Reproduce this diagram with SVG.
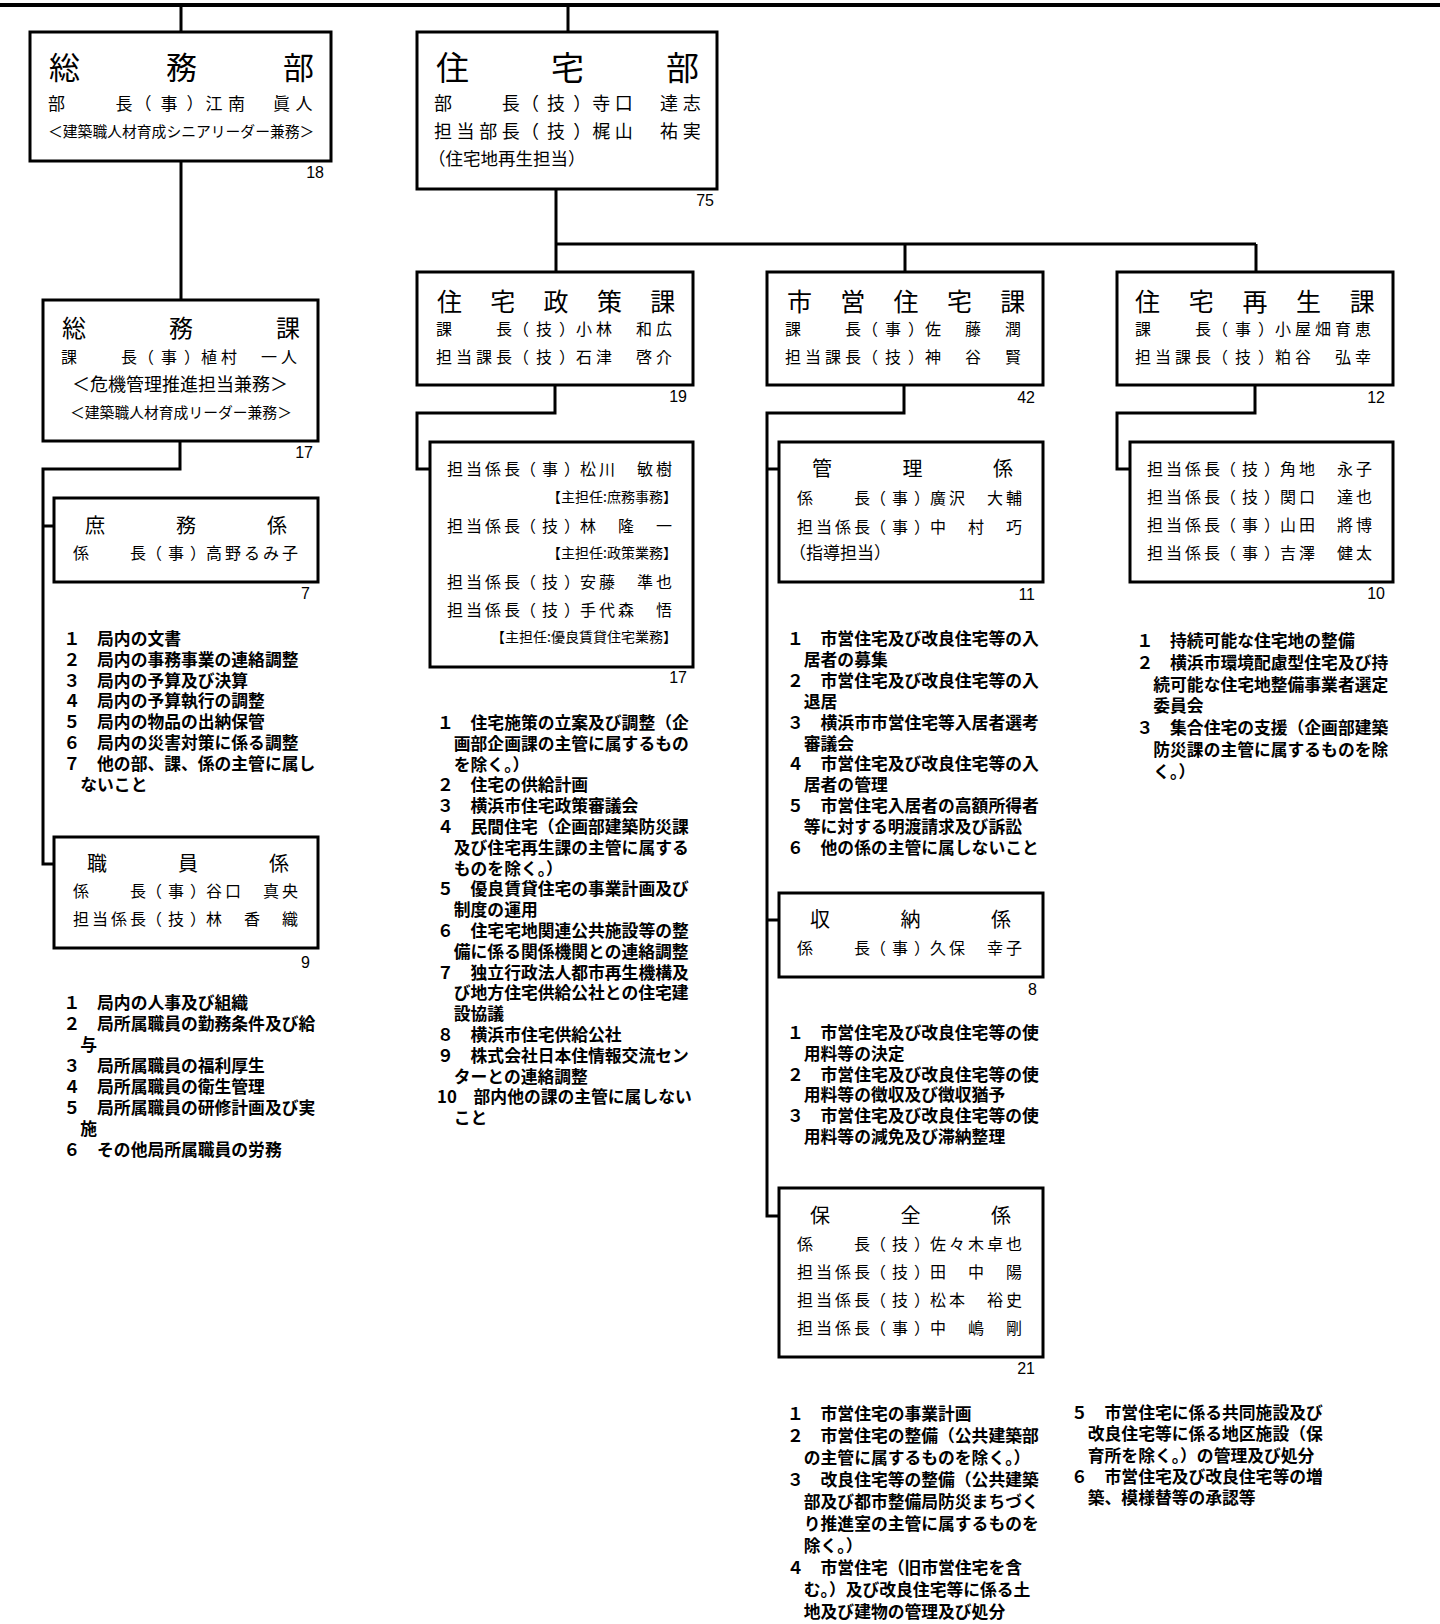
<svg xmlns="http://www.w3.org/2000/svg" width="1440" height="1624" viewBox="0 0 1440 1624">
<style>
text{font-family:"Noto Sans CJK JP","Noto Sans CJK SC",sans-serif;fill:#000}
.box{fill:#fff;stroke:#000;stroke-width:3}
.ln{fill:none;stroke:#000;stroke-width:3}
.r{font-size:16px;letter-spacing:4px}
.r3{font-size:16px;letter-spacing:3px}
.t25{font-size:25px;letter-spacing:28.3px}
.t20{font-size:20px;letter-spacing:71px}
.n{font-family:"Liberation Sans",Arial,sans-serif;font-size:16px;text-anchor:end}
.s14{font-size:14px;text-anchor:end}
.li{font-size:16.8px;font-weight:bold}
</style>
<rect width="1440" height="1624" fill="#fff"/>
<g id="connectors">
<path class="ln" d="M0,5H1440" style="stroke-width:4"/>
<path class="ln" d="M181,5V32M568,5V32"/>
<path class="ln" d="M181,161V300"/>
<path class="ln" d="M180,441V469H43V864H54M43,526H54"/>
<path class="ln" d="M556,189V244H1256M556,244V272M905,244V272M1256,244V272"/>
<path class="ln" d="M555,385V413H417V469H430"/>
<path class="ln" d="M904,385V413H767V1216H779M767,469H779M767,920H779"/>
<path class="ln" d="M1255,385V413H1117V469H1130"/>
</g>
<g id="somubu">
<rect class="box" x="30" y="32" width="301" height="129"/>
<text x="49" y="79" style="font-size:31px;letter-spacing:86px">総務部</text>
<text x="48" y="110" dx="0 0 0 0 -3.5 3.5 3.5 -3.5" style="font-size:17px;letter-spacing:5.5px">部　　長（事）江南　眞人</text>
<text x="48" y="137" style="font-size:14.8px">＜建築職人材育成シニアリーダー兼務＞</text>
<text class="n" x="324" y="178">18</text>
</g>
<g id="jutakubu">
<rect class="box" x="417" y="32" width="300" height="157"/>
<text x="436" y="80" style="font-size:33px;letter-spacing:82px">住宅部</text>
<text x="434" y="110" dx="0 0 0 0 -3.5 3.5 3.5 -3.5" style="font-size:18px;letter-spacing:4.6px">部　　長（技）寺口　達志</text>
<text x="434" y="138" dx="0 0 0 0 -3.5 3.5 3.5 -3.5" style="font-size:18px;letter-spacing:4.6px">担当部長（技）梶山　祐実</text>
<text x="428" y="165" style="font-size:17.5px">（住宅地再生担当）</text>
<text class="n" x="714" y="206">75</text>
</g>
<g id="somuka">
<rect class="box" x="43" y="300" width="275" height="141"/>
<text x="62" y="337" style="font-size:24px;letter-spacing:83px">総務課</text>
<text class="r" x="61" y="363" dx="0 0 0 0 -3 3 3 -3">課　　長（事）植村　一人</text>
<text x="72" y="391" style="font-size:18px">＜危機管理推進担当兼務＞</text>
<text x="70" y="418" style="font-size:14.8px">＜建築職人材育成リーダー兼務＞</text>
<text class="n" x="313" y="458">17</text>
</g>
<g id="shomugakari">
<rect class="box" x="54" y="498" width="264" height="84"/>
<text class="t20" x="85" y="533">庶務係</text>
<text class="r3" x="73" y="559" dx="0 0 0 0 -3 3 3 -3">係　　長（事）高野るみ子</text>
<text class="n" x="310" y="599">7</text>
</g>
<g id="shomu-list">
<text class="li"><tspan x="63.5" y="645">１　局内の文書</tspan><tspan x="63.5" y="665.8">２　局内の事務事業の連絡調整</tspan><tspan x="63.5" y="686.6">３　局内の予算及び決算</tspan><tspan x="63.5" y="707.4">４　局内の予算執行の調整</tspan><tspan x="63.5" y="728.2">５　局内の物品の出納保管</tspan><tspan x="63.5" y="749">６　局内の災害対策に係る調整</tspan><tspan x="63.5" y="769.8">７　他の部、課、係の主管に属し</tspan><tspan x="80.3" y="790.6">ないこと</tspan></text>
</g>
<g id="shokuingakari">
<rect class="box" x="54" y="837" width="264" height="111"/>
<text class="t20" x="87" y="871">職員係</text>
<text class="r3" x="73" y="897" dx="0 0 0 0 -3 3 3 -3">係　　長（事）谷口　真央</text>
<text class="r3" x="73" y="925" dx="0 0 0 0 -3 3 3 -3">担当係長（技）林　香　織</text>
<text class="n" x="310" y="968">9</text>
</g>
<g id="shokuin-list">
<text class="li"><tspan x="63.5" y="1009">１　局内の人事及び組織</tspan><tspan x="63.5" y="1030">２　局所属職員の勤務条件及び給</tspan><tspan x="80.3" y="1051">与</tspan><tspan x="63.5" y="1072">３　局所属職員の福利厚生</tspan><tspan x="63.5" y="1093">４　局所属職員の衛生管理</tspan><tspan x="63.5" y="1114">５　局所属職員の研修計画及び実</tspan><tspan x="80.3" y="1135">施</tspan><tspan x="63.5" y="1156">６　その他局所属職員の労務</tspan></text>
</g>
<g id="seisakuka">
<rect class="box" x="417" y="272" width="276" height="113"/>
<text class="t25" x="437" y="311">住宅政策課</text>
<text class="r" x="436" y="335" dx="0 0 0 0 -3 3 3 -3">課　　長（技）小林　和広</text>
<text class="r" x="436" y="363" dx="0 0 0 0 -3 3 3 -3">担当課長（技）石津　啓介</text>
<text class="n" x="687" y="402">19</text>
</g>
<g id="seisaku-tanto">
<rect class="box" x="430" y="442" width="263" height="225"/>
<text class="r3" x="447" y="475" dx="0 0 0 0 -3 3 3 -3">担当係長（事）松川　敏樹</text>
<text class="s14" x="677" y="502">【主担任:庶務事務】</text>
<text class="r3" x="447" y="532" dx="0 0 0 0 -3 3 3 -3">担当係長（技）林　隆　一</text>
<text class="s14" x="677" y="558">【主担任:政策業務】</text>
<text class="r3" x="447" y="588" dx="0 0 0 0 -3 3 3 -3">担当係長（技）安藤　準也</text>
<text class="r3" x="447" y="616" dx="0 0 0 0 -3 3 3 -3">担当係長（技）手代森　悟</text>
<text class="s14" x="677" y="642">【主担任:優良賃貸住宅業務】</text>
<text class="n" x="687" y="683">17</text>
</g>
<g id="seisaku-list">
<text class="li"><tspan x="437" y="729">１　住宅施策の立案及び調整（企</tspan><tspan x="453.8" y="749.8">画部企画課の主管に属するもの</tspan><tspan x="453.8" y="770.6">を除く。）</tspan><tspan x="437" y="791.4">２　住宅の供給計画</tspan><tspan x="437" y="812.2">３　横浜市住宅政策審議会</tspan><tspan x="437" y="833">４　民間住宅（企画部建築防災課</tspan><tspan x="453.8" y="853.8">及び住宅再生課の主管に属する</tspan><tspan x="453.8" y="874.6">ものを除く。）</tspan><tspan x="437" y="895.4">５　優良賃貸住宅の事業計画及び</tspan><tspan x="453.8" y="916.2">制度の運用</tspan><tspan x="437" y="937">６　住宅宅地関連公共施設等の整</tspan><tspan x="453.8" y="957.8">備に係る関係機関との連絡調整</tspan><tspan x="437" y="978.6">７　独立行政法人都市再生機構及</tspan><tspan x="453.8" y="999.4">び地方住宅供給公社との住宅建</tspan><tspan x="453.8" y="1020.2">設協議</tspan><tspan x="437" y="1041">８　横浜市住宅供給公社</tspan><tspan x="437" y="1061.8">９　株式会社日本住情報交流セン</tspan><tspan x="453.8" y="1082.6">ターとの連絡調整</tspan><tspan x="437" y="1103.4">10　部内他の課の主管に属しない</tspan><tspan x="453.8" y="1124.2">こと</tspan></text>
</g>
<g id="shieika">
<rect class="box" x="767" y="272" width="276" height="113"/>
<text class="t25" x="787" y="311">市営住宅課</text>
<text class="r" x="785" y="335" dx="0 0 0 0 -3 3 3 -3">課　　長（事）佐　藤　潤</text>
<text class="r" x="785" y="363" dx="0 0 0 0 -3 3 3 -3">担当課長（技）神　谷　賢</text>
<text class="n" x="1035" y="403">42</text>
</g>
<g id="kanrigakari">
<rect class="box" x="779" y="442" width="264" height="140"/>
<text class="t20" x="812" y="476" style="letter-spacing:70.5px">管理係</text>
<text class="r3" x="797" y="504" dx="0 0 0 0 -3 3 3 -3">係　　長（事）廣沢　大輔</text>
<text class="r3" x="797" y="533" dx="0 0 0 0 -3 3 3 -3">担当係長（事）中　村　巧</text>
<text x="789" y="559" style="font-size:17px">（指導担当）</text>
<text class="n" x="1035" y="600">11</text>
</g>
<g id="kanri-list">
<text class="li"><tspan x="787" y="645">１　市営住宅及び改良住宅等の入</tspan><tspan x="803.8" y="665.9">居者の募集</tspan><tspan x="787" y="686.8">２　市営住宅及び改良住宅等の入</tspan><tspan x="803.8" y="707.7">退居</tspan><tspan x="787" y="728.6">３　横浜市市営住宅等入居者選考</tspan><tspan x="803.8" y="749.5">審議会</tspan><tspan x="787" y="770.4">４　市営住宅及び改良住宅等の入</tspan><tspan x="803.8" y="791.3">居者の管理</tspan><tspan x="787" y="812.2">５　市営住宅入居者の高額所得者</tspan><tspan x="803.8" y="833.1">等に対する明渡請求及び訴訟</tspan><tspan x="787" y="854">６　他の係の主管に属しないこと</tspan></text>
</g>
<g id="shunogakari">
<rect class="box" x="779" y="893" width="264" height="84"/>
<text class="t20" x="810" y="927" style="letter-spacing:70.5px">収納係</text>
<text class="r3" x="797" y="954" dx="0 0 0 0 -3 3 3 -3">係　　長（事）久保　幸子</text>
<text class="n" x="1037" y="995">8</text>
</g>
<g id="shuno-list">
<text class="li"><tspan x="787" y="1039">１　市営住宅及び改良住宅等の使</tspan><tspan x="803.8" y="1059.8">用料等の決定</tspan><tspan x="787" y="1080.6">２　市営住宅及び改良住宅等の使</tspan><tspan x="803.8" y="1101.4">用料等の徴収及び徴収猶予</tspan><tspan x="787" y="1122.2">３　市営住宅及び改良住宅等の使</tspan><tspan x="803.8" y="1143">用料等の減免及び滞納整理</tspan></text>
</g>
<g id="hozengakari">
<rect class="box" x="779" y="1188" width="264" height="169"/>
<text class="t20" x="810" y="1223" style="letter-spacing:70.5px">保全係</text>
<text class="r3" x="797" y="1250" dx="0 0 0 0 -3 3 3 -3">係　　長（技）佐々木卓也</text>
<text class="r3" x="797" y="1278" dx="0 0 0 0 -3 3 3 -3">担当係長（技）田　中　陽</text>
<text class="r3" x="797" y="1306" dx="0 0 0 0 -3 3 3 -3">担当係長（技）松本　裕史</text>
<text class="r3" x="797" y="1334" dx="0 0 0 0 -3 3 3 -3">担当係長（事）中　嶋　剛</text>
<text class="n" x="1035" y="1374">21</text>
</g>
<g id="hozen-list">
<text class="li"><tspan x="787" y="1420">１　市営住宅の事業計画</tspan><tspan x="787" y="1442">２　市営住宅の整備（公共建築部</tspan><tspan x="803.8" y="1464">の主管に属するものを除く。）</tspan><tspan x="787" y="1486">３　改良住宅等の整備（公共建築</tspan><tspan x="803.8" y="1508">部及び都市整備局防災まちづく</tspan><tspan x="803.8" y="1530">り推進室の主管に属するものを</tspan><tspan x="803.8" y="1552">除く。）</tspan><tspan x="787" y="1574">４　市営住宅（旧市営住宅を含</tspan><tspan x="803.8" y="1596">む。）及び改良住宅等に係る土</tspan><tspan x="803.8" y="1618">地及び建物の管理及び処分</tspan></text>
<text class="li"><tspan x="1071" y="1419">５　市営住宅に係る共同施設及び</tspan><tspan x="1087.8" y="1440.3">改良住宅等に係る地区施設（保</tspan><tspan x="1087.8" y="1461.6">育所を除く。）の管理及び処分</tspan><tspan x="1071" y="1482.9">６　市営住宅及び改良住宅等の増</tspan><tspan x="1087.8" y="1504.2">築、模様替等の承認等</tspan></text>
</g>
<g id="saiseika">
<rect class="box" x="1117" y="272" width="276" height="113"/>
<text class="t25" x="1135" y="311" style="letter-spacing:28.7px">住宅再生課</text>
<text class="r" x="1135" y="335" dx="0 0 0 0 -3 3 3 -3">課　　長（事）小屋畑育恵</text>
<text class="r" x="1135" y="363" dx="0 0 0 0 -3 3 3 -3">担当課長（技）粕谷　弘幸</text>
<text class="n" x="1385" y="403">12</text>
</g>
<g id="saisei-tanto">
<rect class="box" x="1130" y="442" width="263" height="140"/>
<text class="r3" x="1147" y="475" dx="0 0 0 0 -3 3 3 -3">担当係長（技）角地　永子</text>
<text class="r3" x="1147" y="503" dx="0 0 0 0 -3 3 3 -3">担当係長（技）関口　達也</text>
<text class="r3" x="1147" y="531" dx="0 0 0 0 -3 3 3 -3">担当係長（事）山田　將博</text>
<text class="r3" x="1147" y="559" dx="0 0 0 0 -3 3 3 -3">担当係長（事）吉澤　健太</text>
<text class="n" x="1385" y="599">10</text>
</g>
<g id="saisei-list">
<text class="li"><tspan x="1136.5" y="647">１　持続可能な住宅地の整備</tspan><tspan x="1136.5" y="668.8">２　横浜市環境配慮型住宅及び持</tspan><tspan x="1153.3" y="690.6">続可能な住宅地整備事業者選定</tspan><tspan x="1153.3" y="712.4">委員会</tspan><tspan x="1136.5" y="734.2">３　集合住宅の支援（企画部建築</tspan><tspan x="1153.3" y="756">防災課の主管に属するものを除</tspan><tspan x="1153.3" y="777.8">く。）</tspan></text>
</g>
</svg>
